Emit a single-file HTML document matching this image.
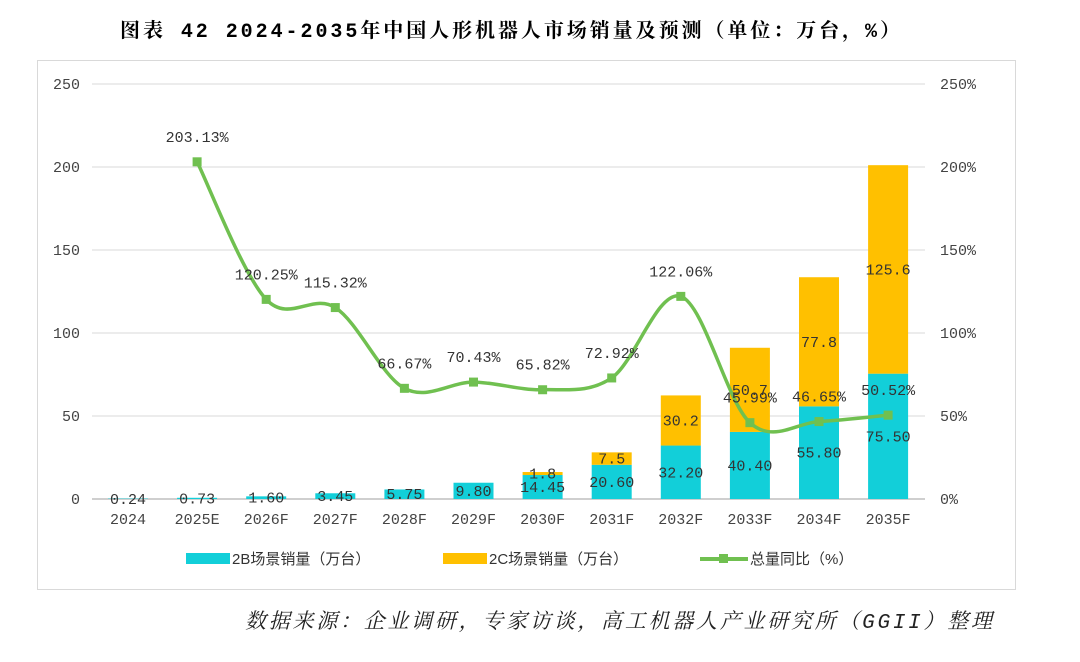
<!DOCTYPE html>
<html><head><meta charset="utf-8"><style>
body{margin:0;width:1080px;height:657px;background:#fff;overflow:hidden;font-family:"Liberation Serif","Noto Serif CJK SC",serif}
</style></head><body>
<svg width="1080" height="657" xmlns="http://www.w3.org/2000/svg">
<text x="120" y="37" textLength="780" lengthAdjust="spacing" font-size="20" font-weight="bold" fill="#000" font-family="Liberation Mono,Noto Serif CJK SC,serif">图表 42  2024-2035年中国人形机器人市场销量及预测（单位：万台，%）</text>
<rect x="37.5" y="60.5" width="978" height="529" fill="#fff" stroke="#d9d9d9"/>
<g id="grid"></g><g id="bars"></g><g id="line"></g><g id="labels"></g>
<g font-size="15" fill="#333" font-family="Liberation Sans Narrow,Liberation Sans,Noto Sans CJK SC,sans-serif">
<rect x="186" y="553" width="44" height="11" fill="#12cfd9"/>
<text x="232" y="564">2B场景销量（万台）</text>
<rect x="443" y="553" width="44" height="11" fill="#ffc000"/>
<text x="489" y="564">2C场景销量（万台）</text>
<line x1="700" y1="559" x2="748" y2="559" stroke="#70c050" stroke-width="4"/>
<rect x="719" y="554" width="9" height="9" fill="#70c050"/>
<text x="750" y="564">总量同比（%）</text>
</g>
<text x="245" y="628" textLength="747" lengthAdjust="spacing" font-size="21" font-style="italic" fill="#222" font-family="Liberation Mono,Noto Serif CJK SC,serif">数据来源：企业调研，专家访谈，高工机器人产业研究所（GGII）整理</text>
</svg>
<script>
const categories=["2024","2025E","2026F","2027F","2028F","2029F","2030F","2031F","2032F","2033F","2034F","2035F"];
const sales2B=[0.24,0.73,1.60,3.45,5.75,9.80,14.45,20.60,32.20,40.40,55.80,75.50];
const sales2C=[0,0,0,0,0,0,1.8,7.5,30.2,50.7,77.8,125.6];
const growth=[null,203.13,120.25,115.32,66.67,70.43,65.82,72.92,122.06,45.99,46.65,50.52];
const leftTicks=[0,50,100,150,200,250];
const rightTicks=["0%","50%","100%","150%","200%","250%"];
const NS="http://www.w3.org/2000/svg";
const MONO="Liberation Mono,Noto Serif CJK SC,monospace";
const y0=499,y1=84,xL=92,xR=925,x0=128,step=69.1,bw=40;
const yL=v=>y0-(v/250)*(y0-y1);
const yR=v=>y0-(v/250)*(y0-y1);
const xC=i=>x0+i*step;
function mk(t,a,p){const e=document.createElementNS(NS,t);for(const k in a)e.setAttribute(k,a[k]);p.appendChild(e);return e;}
const G=document.getElementById('grid'),B=document.getElementById('bars'),L=document.getElementById('line'),T=document.getElementById('labels');
leftTicks.forEach((v,i)=>{
 const gl=mk('line',{x1:xL,x2:xR,y1:yL(v),y2:yL(v),stroke:i==0?'#bfbfbf':'#d9d9d9','stroke-width':i==0?1.5:1},G);
 
 
 const t=mk('text',{x:80,y:yL(v)+5,'text-anchor':'end','font-size':15,fill:'#444','font-family':MONO},G);t.textContent=v;
 
 
 const r=mk('text',{x:940,y:yL(v)+5,'font-size':15,fill:'#444','font-family':MONO},G);r.textContent=rightTicks[i];
 
 
});
categories.forEach((c,i)=>{
 const x=xC(i);
 const b=mk('rect',{x:x-bw/2,y:yL(sales2B[i]),width:bw,height:y0-yL(sales2B[i]),fill:'#12cfd9'},B);
 
 
 if(sales2C[i]>0){const r=mk('rect',{x:x-bw/2,y:yL(sales2B[i]+sales2C[i]),width:bw,height:yL(sales2B[i])-yL(sales2B[i]+sales2C[i]),fill:'#ffc000'},B);
 
 }
 const t=mk('text',{x:x,y:524,'text-anchor':'middle','font-size':15,fill:'#444','font-family':MONO},T);t.textContent=c;
 
 
 const bl=mk('text',{x:x,y:(yL(sales2B[i])+y0)/2+5,'text-anchor':'middle','font-size':15,fill:'#333','font-family':MONO},T);bl.textContent=sales2B[i].toFixed(2);
 
 
 if(sales2C[i]>0){const cl=mk('text',{x:x,y:(yL(sales2B[i])+yL(sales2B[i]+sales2C[i]))/2+5,'text-anchor':'middle','font-size':15,fill:'#333','font-family':MONO},T);cl.textContent=String(sales2C[i]);
 
 }
});
const pts=[];growth.forEach((g,i)=>{if(g!==null)pts.push([xC(i),yR(g),g]);});
let d='M'+pts[0][0]+','+pts[0][1];
for(let i=0;i<pts.length-1;i++){const p0=pts[i-1]||pts[i],p1=pts[i],p2=pts[i+1],p3=pts[i+2]||p2;const k=6;
 d+=` C${p1[0]+(p2[0]-p0[0])/k},${p1[1]+(p2[1]-p0[1])/k} ${p2[0]-(p3[0]-p1[0])/k},${p2[1]-(p3[1]-p1[1])/k} ${p2[0]},${p2[1]}`;}
const pl=mk('path',{d:d,fill:'none',stroke:'#70c050','stroke-width':3.5},L);


pts.forEach(p=>{
 const m=mk('rect',{x:p[0]-4.5,y:p[1]-4.5,width:9,height:9,fill:'#70c050'},L);
 
 
 const t=mk('text',{x:p[0],y:p[1]-20,'text-anchor':'middle','font-size':15,fill:'#333','font-family':MONO},T);t.textContent=p[2].toFixed(2)+'%';
 
 
});
</script>
</body></html>
